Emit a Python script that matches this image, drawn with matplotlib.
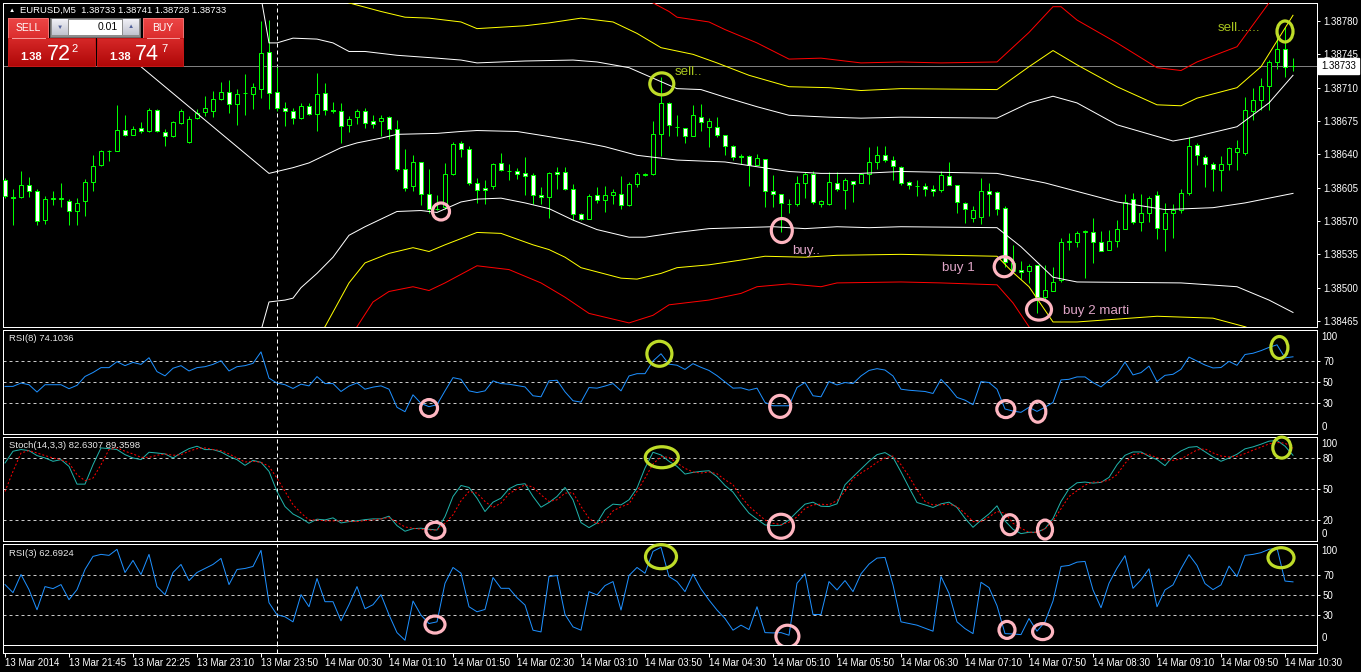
import matplotlib
matplotlib.use("Agg")
import matplotlib.pyplot as plt
import matplotlib.colors as mcolors
import matplotlib.transforms as mtransforms
from matplotlib.patches import Ellipse, Rectangle
import numpy as np

plt.rcParams["font.family"] = ["Liberation Sans", "DejaVu Sans"]

# ---------------- data (EURUSD M5) ----------------
opens = [
    1.38613, 1.38595, 1.38595, 1.38608, 1.38601, 1.38571, 1.38593, 1.38593, 1.38591, 1.38581,
    1.38591, 1.38611, 1.38629, 1.38643, 1.38644, 1.38666, 1.38660, 1.38668, 1.38665, 1.38687,
    1.38663, 1.38659, 1.38673, 1.38653, 1.38678, 1.38684, 1.38685, 1.38698, 1.38705, 1.38693,
    1.38704, 1.38703, 1.38709, 1.38747, 1.38705, 1.38689, 1.38686, 1.38678, 1.38691, 1.38682,
    1.38704, 1.38687, 1.38686, 1.38671, 1.38679, 1.38685, 1.38675, 1.38675, 1.38679, 1.38667,
    1.38625, 1.38607, 1.38632, 1.38598, 1.38583, 1.38585, 1.38619, 1.38652, 1.38646, 1.38610,
    1.38605, 1.38607, 1.38631, 1.38623, 1.38622, 1.38620, 1.38618, 1.38597, 1.38595, 1.38621,
    1.38621, 1.38604, 1.38577, 1.38572, 1.38597, 1.38592, 1.38597, 1.38598, 1.38587, 1.38609,
    1.38618, 1.38619, 1.38661, 1.38694, 1.38669, 1.38668, 1.38659, 1.38679, 1.38669, 1.38669,
    1.38660, 1.38649, 1.38638, 1.38638, 1.38629, 1.38635, 1.38601, 1.38598, 1.38588, 1.38588,
    1.38610, 1.38619, 1.38588, 1.38588, 1.38610, 1.38603, 1.38612, 1.38610, 1.38619, 1.38632,
    1.38639, 1.38634, 1.38627, 1.38611, 1.38607, 1.38607, 1.38604, 1.38603, 1.38617, 1.38608,
    1.38589, 1.38573, 1.38574, 1.38601, 1.38600, 1.38584, 1.38518, 1.38519, 1.38517, 1.38524,
    1.38490, 1.38497, 1.38508, 1.38548, 1.38548, 1.38558, 1.38558, 1.38548, 1.38540, 1.38549,
    1.38562, 1.38593, 1.38569, 1.38578, 1.38597, 1.38562, 1.38578, 1.38582, 1.38599, 1.38650,
    1.38637, 1.38630, 1.38624, 1.38630, 1.38642, 1.38641, 1.38686, 1.38697, 1.38712, 1.38737,
    1.38751, 1.38733,
]
highs = [
    1.38615, 1.38604, 1.38623, 1.38616, 1.38604, 1.38596, 1.38602, 1.38610, 1.38593, 1.38594,
    1.38614, 1.38639, 1.38645, 1.38645, 1.38692, 1.38681, 1.38670, 1.38674, 1.38689, 1.38688,
    1.38667, 1.38675, 1.38688, 1.38680, 1.38688, 1.38701, 1.38706, 1.38716, 1.38718, 1.38709,
    1.38724, 1.38715, 1.38780, 1.38781, 1.38732, 1.38695, 1.38689, 1.38694, 1.38694, 1.38725,
    1.38715, 1.38695, 1.38694, 1.38680, 1.38688, 1.38689, 1.38681, 1.38681, 1.38680, 1.38676,
    1.38646, 1.38639, 1.38632, 1.38625, 1.38597, 1.38631, 1.38653, 1.38654, 1.38649, 1.38615,
    1.38613, 1.38631, 1.38641, 1.38630, 1.38626, 1.38637, 1.38620, 1.38606, 1.38621, 1.38627,
    1.38627, 1.38609, 1.38578, 1.38598, 1.38606, 1.38607, 1.38604, 1.38617, 1.38611, 1.38621,
    1.38620, 1.38675, 1.38721, 1.38695, 1.38681, 1.38668, 1.38692, 1.38693, 1.38678, 1.38679,
    1.38660, 1.38650, 1.38640, 1.38639, 1.38640, 1.38635, 1.38618, 1.38598, 1.38593, 1.38617,
    1.38621, 1.38623, 1.38592, 1.38621, 1.38621, 1.38615, 1.38612, 1.38620, 1.38648, 1.38649,
    1.38649, 1.38638, 1.38628, 1.38612, 1.38613, 1.38610, 1.38608, 1.38622, 1.38632, 1.38608,
    1.38590, 1.38586, 1.38615, 1.38610, 1.38601, 1.38586, 1.38545, 1.38528, 1.38525, 1.38524,
    1.38524, 1.38522, 1.38552, 1.38557, 1.38559, 1.38561, 1.38573, 1.38559, 1.38561, 1.38571,
    1.38598, 1.38599, 1.38598, 1.38596, 1.38602, 1.38589, 1.38588, 1.38604, 1.38658, 1.38652,
    1.38639, 1.38632, 1.38638, 1.38648, 1.38655, 1.38700, 1.38710, 1.38720, 1.38739, 1.38767,
    1.38774, 1.38741,
]
lows = [
    1.38594, 1.38566, 1.38594, 1.38595, 1.38566, 1.38567, 1.38587, 1.38585, 1.38566, 1.38566,
    1.38575, 1.38601, 1.38628, 1.38633, 1.38643, 1.38659, 1.38660, 1.38662, 1.38663, 1.38663,
    1.38649, 1.38658, 1.38672, 1.38652, 1.38677, 1.38680, 1.38679, 1.38697, 1.38683, 1.38671,
    1.38681, 1.38688, 1.38699, 1.38688, 1.38685, 1.38670, 1.38672, 1.38677, 1.38681, 1.38664,
    1.38681, 1.38683, 1.38652, 1.38663, 1.38672, 1.38668, 1.38668, 1.38659, 1.38656, 1.38622,
    1.38602, 1.38601, 1.38587, 1.38578, 1.38582, 1.38583, 1.38618, 1.38637, 1.38608, 1.38589,
    1.38588, 1.38604, 1.38622, 1.38613, 1.38614, 1.38597, 1.38588, 1.38588, 1.38573, 1.38604,
    1.38603, 1.38571, 1.38571, 1.38572, 1.38589, 1.38579, 1.38588, 1.38583, 1.38586, 1.38606,
    1.38617, 1.38618, 1.38638, 1.38659, 1.38659, 1.38652, 1.38659, 1.38664, 1.38648, 1.38658,
    1.38639, 1.38634, 1.38630, 1.38607, 1.38629, 1.38585, 1.38585, 1.38558, 1.38578, 1.38586,
    1.38594, 1.38588, 1.38585, 1.38587, 1.38602, 1.38583, 1.38590, 1.38610, 1.38609, 1.38625,
    1.38632, 1.38613, 1.38608, 1.38604, 1.38596, 1.38596, 1.38596, 1.38600, 1.38608, 1.38578,
    1.38568, 1.38569, 1.38567, 1.38575, 1.38576, 1.38522, 1.38515, 1.38509, 1.38505, 1.38473,
    1.38487, 1.38496, 1.38506, 1.38540, 1.38543, 1.38510, 1.38526, 1.38538, 1.38540, 1.38543,
    1.38562, 1.38567, 1.38560, 1.38569, 1.38551, 1.38538, 1.38552, 1.38578, 1.38597, 1.38629,
    1.38606, 1.38602, 1.38602, 1.38624, 1.38624, 1.38639, 1.38676, 1.38687, 1.38687, 1.38730,
    1.38721, 1.38728,
]
closes = [
    1.38596, 1.38594, 1.38608, 1.38601, 1.38570, 1.38593, 1.38594, 1.38594, 1.38581, 1.38589,
    1.38611, 1.38628, 1.38643, 1.38644, 1.38666, 1.38660, 1.38667, 1.38665, 1.38687, 1.38664,
    1.38659, 1.38674, 1.38686, 1.38677, 1.38683, 1.38689, 1.38698, 1.38705, 1.38693, 1.38703,
    1.38704, 1.38711, 1.38746, 1.38704, 1.38689, 1.38686, 1.38678, 1.38691, 1.38682, 1.38703,
    1.38687, 1.38686, 1.38670, 1.38677, 1.38685, 1.38673, 1.38672, 1.38678, 1.38667, 1.38625,
    1.38605, 1.38632, 1.38598, 1.38583, 1.38583, 1.38619, 1.38651, 1.38646, 1.38610, 1.38603,
    1.38603, 1.38630, 1.38624, 1.38623, 1.38619, 1.38617, 1.38597, 1.38595, 1.38620, 1.38619,
    1.38604, 1.38577, 1.38572, 1.38596, 1.38592, 1.38597, 1.38600, 1.38587, 1.38609, 1.38619,
    1.38619, 1.38661, 1.38694, 1.38671, 1.38669, 1.38659, 1.38681, 1.38674, 1.38675, 1.38660,
    1.38649, 1.38637, 1.38637, 1.38629, 1.38636, 1.38601, 1.38598, 1.38589, 1.38588, 1.38610,
    1.38619, 1.38590, 1.38591, 1.38611, 1.38604, 1.38613, 1.38609, 1.38619, 1.38632, 1.38639,
    1.38634, 1.38628, 1.38610, 1.38608, 1.38607, 1.38604, 1.38602, 1.38618, 1.38608, 1.38590,
    1.38583, 1.38582, 1.38601, 1.38598, 1.38583, 1.38527, 1.38526, 1.38516, 1.38523, 1.38490,
    1.38498, 1.38506, 1.38548, 1.38549, 1.38557, 1.38559, 1.38548, 1.38539, 1.38549, 1.38562,
    1.38590, 1.38569, 1.38578, 1.38594, 1.38563, 1.38578, 1.38582, 1.38599, 1.38649, 1.38639,
    1.38630, 1.38625, 1.38630, 1.38647, 1.38647, 1.38687, 1.38697, 1.38712, 1.38737, 1.38751,
    1.38732, 1.38733,
]
bid = 1.38733

# band lines (bar index, price)
mid_idx = [17, 33, 34, 36, 38, 40, 42, 44, 47, 49, 54, 57, 59, 64, 67, 72, 75, 79, 84, 90,
           94, 98, 102, 107, 112, 124, 130, 139, 145, 151, 155, 161]
mid_val = [1.38732, 1.38620, 1.38622, 1.38626, 1.38631, 1.38639, 1.38647, 1.38652, 1.38657, 1.38661,
           1.38662, 1.38664, 1.38665, 1.38664, 1.38660, 1.38653, 1.38648, 1.38639, 1.38634, 1.38632,
           1.38627, 1.38622, 1.38620, 1.38620, 1.38622, 1.38620, 1.38610, 1.38590, 1.38582, 1.38584,
           1.38589, 1.38599]
up1_idx = [32, 33, 34, 36, 39, 41, 43, 45, 49, 54, 57, 59, 65, 71, 74, 78, 81, 84, 87, 90,
           94, 98, 103, 107, 112, 124, 128, 131, 134, 139, 146, 148, 154, 158, 161]
up1_val = [1.38805, 1.38757, 1.38757, 1.38762, 1.38761, 1.38757, 1.38748, 1.38748, 1.38744, 1.38741,
           1.38739, 1.38736, 1.38738, 1.38739, 1.38737, 1.38731, 1.38720, 1.38709, 1.38708, 1.38700,
           1.38690, 1.38681, 1.38679, 1.38678, 1.38679, 1.38678, 1.38694, 1.38701, 1.38694, 1.38671,
           1.38654, 1.38657, 1.38669, 1.38694, 1.38723]
dn1_idx = [32, 33, 35, 36, 37, 39, 41, 43, 45, 48, 49, 52, 54, 57, 59, 62, 65, 68, 71, 74,
           78, 80, 84, 88, 92, 96, 100, 104, 108, 112, 124, 127, 131, 134, 147, 154, 158, 161]
dn1_val = [1.38455, 1.38485, 1.38487, 1.38489, 1.38500, 1.38515, 1.38532, 1.38555, 1.38564, 1.38576,
           1.38580, 1.38581, 1.38579, 1.38590, 1.38593, 1.38594, 1.38589, 1.38583, 1.38571, 1.38561,
           1.38553, 1.38553, 1.38558, 1.38562, 1.38563, 1.38564, 1.38562, 1.38564, 1.38563, 1.38564,
           1.38563, 1.38543, 1.38511, 1.38506, 1.38505, 1.38501, 1.38487, 1.38474]
up2_idx = [34, 38, 43, 47, 50, 53, 57, 59, 65, 68, 72, 76, 79, 82, 86, 89, 93, 98, 103, 107,
           112, 124, 128, 131, 134, 139, 144, 147, 149, 154, 157, 161]
up2_val = [1.38840, 1.38815, 1.38799, 1.38790, 1.38784, 1.38783, 1.38779, 1.38772, 1.38775, 1.38778,
           1.38783, 1.38779, 1.38767, 1.38752, 1.38745, 1.38736, 1.38723, 1.38711, 1.38710, 1.38707,
           1.38709, 1.38708, 1.38732, 1.38749, 1.38734, 1.38711, 1.38692, 1.38691, 1.38699, 1.38710,
           1.38732, 1.38786]
dn2_idx = [34, 38, 40, 43, 45, 48, 51, 53, 55, 59, 62, 66, 68, 70, 72, 77, 79, 82, 84, 88,
           92, 95, 100, 104, 112, 124, 126, 128, 131, 134, 144, 151, 155, 161]
dn2_val = [1.38400, 1.38440, 1.38459, 1.38505, 1.38526, 1.38536, 1.38542, 1.38538, 1.38545, 1.38558,
           1.38557, 1.38545, 1.38540, 1.38532, 1.38521, 1.38510, 1.38509, 1.38515, 1.38521, 1.38524,
           1.38529, 1.38533, 1.38532, 1.38534, 1.38535, 1.38533, 1.38516, 1.38501, 1.38464, 1.38464,
           1.38470, 1.38468, 1.38459, 1.38440]
up3_idx = [34, 60, 76, 81, 83, 84, 88, 90, 94, 98, 102, 105, 107, 112, 117, 124, 128, 131, 132, 134,
           139, 144, 147, 149, 154, 158, 161]
up3_val = [1.38900, 1.38860, 1.38815, 1.38799, 1.38790, 1.38784, 1.38779, 1.38771, 1.38757, 1.38740,
           1.38741, 1.38738, 1.38736, 1.38737, 1.38736, 1.38737, 1.38768, 1.38795, 1.38795, 1.38781,
           1.38757, 1.38731, 1.38728, 1.38737, 1.38753, 1.38799, 1.38840]
dn3_idx = [34, 40, 44, 46, 48, 51, 53, 55, 59, 63, 67, 70, 73, 78, 81, 83, 88, 92, 94, 98,
           102, 104, 112, 117, 124, 126, 128, 131, 161]
dn3_val = [1.38360, 1.38420, 1.38459, 1.38485, 1.38496, 1.38501, 1.38497, 1.38505, 1.38523, 1.38519,
           1.38505, 1.38490, 1.38473, 1.38463, 1.38471, 1.38482, 1.38487, 1.38494, 1.38501, 1.38504,
           1.38501, 1.38505, 1.38506, 1.38505, 1.38503, 1.38484, 1.38459, 1.38420, 1.38400]

rsi8 = [
    45.7, 45.7, 48.9, 47.3, 40.3, 47.3, 47.3, 47.3, 43.5, 46.7,
    55.2, 59.0, 63.7, 63.7, 69.4, 65.6, 68.7, 66.8, 73.2, 59.9,
    55.8, 63.1, 65.6, 60.5, 63.7, 64.6, 66.8, 70.3, 60.5, 64.6,
    65.6, 67.8, 78.8, 53.6, 48.9, 47.3, 43.7, 47.8, 46.2, 55.1,
    48.4, 48.4, 40.8, 46.0, 49.0, 43.0, 45.0, 46.2, 43.0, 25.6,
    21.4, 37.6, 29.4, 26.2, 28.1, 41.4, 54.1, 52.5, 41.4, 39.8,
    41.4, 51.0, 48.4, 47.8, 46.5, 45.2, 36.7, 35.7, 51.0, 51.6,
    40.5, 31.9, 30.6, 44.6, 44.0, 46.0, 48.4, 41.4, 55.7, 57.9,
    57.9, 70.0, 77.0, 67.0, 66.0, 62.0, 67.5, 64.0, 61.0, 56.0,
    50.0, 44.0, 44.3, 42.1, 44.0, 30.3, 27.1, 27.1, 27.1, 44.6,
    49.4, 36.7, 35.7, 50.3, 47.1, 49.4, 48.4, 55.7, 61.0, 62.7,
    61.4, 55.7, 43.0, 42.0, 41.4, 40.8, 38.9, 52.5, 44.6, 35.1,
    32.5, 28.1, 50.3, 49.4, 43.0, 24.0, 22.0, 20.8, 25.6, 21.7,
    25.6, 30.3, 51.9, 52.5, 54.8, 54.8, 49.4, 45.2, 51.6, 57.3,
    69.0, 56.7, 58.9, 65.2, 50.3, 56.3, 57.3, 62.1, 73.8, 70.0,
    66.2, 63.4, 63.8, 69.7, 65.9, 76.3, 77.5, 80.0, 83.1, 85.6,
    73.1, 74.1,
]
stoch_main = [
    75.2, 86.5, 88.1, 87.1, 82.3, 80.0, 76.8, 78.4, 71.9, 54.8,
    54.8, 73.5, 89.7, 89.0, 88.1, 83.2, 80.0, 78.4, 85.5, 84.8,
    83.9, 80.0, 84.8, 89.0, 91.3, 88.1, 88.1, 85.8, 81.6, 78.4,
    72.9, 77.7, 75.8, 67.1, 47.7, 33.2, 26.0, 22.0, 17.1, 21.0,
    20.3, 22.3, 17.4, 18.7, 19.4, 20.6, 21.3, 21.3, 23.9, 14.8,
    9.4, 11.9, 12.3, 11.3, 10.6, 23.5, 42.9, 53.5, 51.6, 41.3,
    28.4, 37.4, 41.3, 50.3, 54.2, 55.2, 42.9, 32.6, 37.1, 42.9,
    51.6, 39.7, 17.7, 12.9, 17.4, 30.0, 35.5, 34.8, 39.7, 51.0,
    70.3, 85.5, 82.9, 76.8, 71.9, 64.5, 66.1, 67.1, 67.7, 61.9,
    53.5, 47.1, 36.5, 26.8, 21.0, 15.5, 14.8, 15.2, 20.3, 28.1,
    35.5, 37.4, 33.5, 33.2, 35.8, 54.2, 61.9, 69.4, 76.8, 83.2,
    85.2, 80.6, 66.5, 51.6, 37.1, 34.8, 32.3, 35.8, 37.4, 32.3,
    21.9, 13.2, 20.0, 26.1, 33.9, 19.4, 11.3, 7.1, 8.4, 8.4,
    11.9, 21.6, 38.1, 50.3, 56.1, 56.8, 55.8, 56.5, 61.3, 73.5,
    82.6, 85.8, 85.8, 81.6, 78.4, 72.6, 81.6, 86.8, 90.3, 91.0,
    86.0, 81.0, 76.8, 80.0, 83.6, 88.8, 90.7, 93.3, 96.2, 96.9,
    91.4, 82.6,
]
stoch_signal = [
    47.7, 67.1, 84.8, 87.1, 84.8, 82.3, 80.0, 78.4, 75.2, 63.9,
    58.1, 60.6, 73.5, 88.1, 89.7, 86.5, 83.9, 80.6, 80.6, 82.6,
    83.9, 82.6, 83.2, 86.5, 89.0, 89.7, 88.1, 87.1, 83.9, 80.0,
    76.1, 76.8, 75.8, 71.9, 60.6, 47.7, 35.0, 27.0, 20.3, 20.3,
    19.4, 19.4, 19.4, 19.0, 18.7, 19.7, 20.3, 21.3, 22.6, 18.1,
    13.5, 12.3, 11.3, 10.6, 10.6, 17.1, 25.2, 38.7, 47.7, 46.1,
    38.1, 32.3, 36.5, 45.5, 50.0, 54.2, 51.9, 44.5, 38.1, 39.7,
    46.1, 46.5, 33.2, 21.9, 16.5, 19.4, 29.0, 32.9, 35.8, 47.7,
    60.6, 74.2, 81.3, 80.6, 75.2, 70.0, 66.5, 65.5, 66.5, 64.8,
    59.0, 54.2, 42.9, 33.5, 26.8, 20.3, 17.1, 15.8, 18.1, 23.2,
    31.3, 34.8, 35.5, 34.8, 39.0, 47.7, 60.0, 65.5, 70.3, 75.8,
    80.0, 81.9, 73.5, 62.3, 49.4, 38.1, 34.8, 34.8, 35.5, 33.2,
    26.5, 18.7, 18.7, 23.2, 28.4, 26.8, 17.1, 12.3, 8.4, 8.4,
    11.6, 19.4, 31.0, 42.9, 48.4, 53.9, 56.8, 56.8, 58.7, 63.9,
    74.8, 83.2, 84.5, 83.2, 80.3, 78.1, 77.7, 79.0, 83.5, 87.7,
    88.8, 84.9, 81.9, 81.0, 81.6, 84.2, 87.5, 90.4, 93.6, 94.9,
    94.3, 89.4,
]
rsi3 = [
    60, 52, 70, 55, 35, 58, 56, 60, 45, 55,
    75, 88, 90, 89, 95, 72, 84, 70, 90, 58,
    50, 72, 80, 64, 72, 76, 80, 86, 60, 75,
    76, 78, 94, 42, 30, 28, 23, 50, 38, 66,
    43, 43, 24, 40, 58, 36, 40, 50, 30, 12.3,
    4.7, 43.7, 29.7, 21.3, 23, 61.3, 77, 71.3, 38, 33,
    35.3, 67, 56.3, 56.3, 47, 39.7, 14.7, 13, 68, 69,
    30.3, 18, 14.7, 53, 49.7, 59, 63, 34.7, 69, 77,
    71.3, 93, 97, 68, 63, 53, 70.3, 55.7, 44.7, 34.7,
    26.3, 14.7, 19.7, 15.3, 38, 12.3, 12, 12.3, 9.7, 61.3,
    70.7, 30.3, 30.3, 63, 54.7, 64, 53, 70.7, 80.3, 86.3,
    87, 59.7, 23, 21.3, 19.7, 16.7, 13.7, 68, 51.3, 23,
    16.3, 11.3, 62.3, 57, 39, 11.3, 11, 10.3, 26.3, 13.7,
    23, 43.7, 78, 79, 82.3, 83, 54.7, 37, 61.3, 76.3,
    88.7, 56.3, 64.7, 75.7, 38, 54.7, 59.7, 75.7, 89.7, 79,
    61, 55, 59.7, 78.3, 68, 89, 90, 91.7, 95, 96.3,
    63.5, 62.7,
]

tick_idx = [0, 8, 16, 24, 32, 40, 48, 56, 64, 72, 80, 88, 96, 104, 112, 120, 128, 136, 144, 152, 160]
tick_lab = ["13 Mar 2014", "13 Mar 21:45", "13 Mar 22:25", "13 Mar 23:10", "13 Mar 23:50",
            "14 Mar 00:30", "14 Mar 01:10", "14 Mar 01:50", "14 Mar 02:30", "14 Mar 03:10",
            "14 Mar 03:50", "14 Mar 04:30", "14 Mar 05:10", "14 Mar 05:50", "14 Mar 06:30",
            "14 Mar 07:10", "14 Mar 07:50", "14 Mar 08:30", "14 Mar 09:10", "14 Mar 09:50",
            "14 Mar 10:30"]
price_ticks = [1.38465, 1.38500, 1.38535, 1.38570, 1.38605, 1.38640, 1.38675, 1.38710, 1.38745, 1.38780]
day_sep = 34

# hand-drawn marks: (bar, value, kind)
main_rx = [54.5, 82.1, 97.1, 124.9, 129.25, 160.0]
main_ry = [1.38580, 1.38714, 1.38560, 1.38522, 1.38477, 1.38769]
rsi8_rx = [81.8, 53.0, 96.9, 125.1, 129.1, 159.3]
rsi8_ry = [77.0, 24.9, 26.5, 23.9, 21.4, 83.0]
sto_rx = [82.1, 53.8, 97.0, 125.6, 130.0, 159.6]
sto_ry = [80.7, 10.3, 14.2, 15.7, 11.0, 90.0]
rsi3_rx = [82.0, 53.75, 97.8, 125.25, 129.7, 159.5]
rsi3_ry = [87.7, 20.3, 8.7, 15.0, 13.3, 86.7]
ring_kind = ["sell", "buy", "buy", "buy", "buy", "sell"]
main_kind = ["buy", "sell", "buy", "buy", "buy", "sell"]

note_x = [83.75, 98.4, 117.1, 132.2, 151.6]
note_y = [1.38726, 1.38538, 1.38521, 1.38475, 1.38773]
note_txt = ["sell..", "buy..", "buy 1", "buy 2 marti", "sell......"]
note_kind = ["sell", "buy", "buy", "buy", "sell"]

# ---------------- style ----------------
W, H, DPI = 1361, 672, 100
PX = 72.0 / DPI
BG, FG = "black", "white"
LIME = "#00FF00"
RING = {"buy": "#FFB6C1", "sell": "#BEDC28"}
NOTE = {"buy": "#E0A6C8", "sell": "#A8C41E"}
main_size = [(17, 17), (24, 22), (21, 24), (20, 20), (25, 21), (16, 21)]
rsi8_size = [(25, 25), (17, 17), (21, 22), (18, 17), (16, 21), (17, 22)]
sto_size = [(33, 21), (19, 16), (25, 24), (17, 20), (15, 19), (18, 21)]
rsi3_size = [(31, 24), (20, 17), (23, 22), (16, 17), (20, 16), (26, 20)]

fig = plt.figure(figsize=(W / DPI, H / DPI), dpi=DPI, facecolor=BG)
X0, X1 = 3, 1317


def panel(top, bottom):
    ax = fig.add_axes([X0 / W, 1 - bottom / H, (X1 - X0) / W, (bottom - top) / H])
    ax.set_facecolor(BG)
    for s in ax.spines.values():
        s.set_color(FG)
        s.set_linewidth(PX)
    ax.set_xlim(-0.25, 164)
    ax.tick_params(axis="x", bottom=False, labelbottom=False)
    ax.yaxis.tick_right()
    ax.tick_params(axis="y", colors=FG, length=3 * PX, width=PX, pad=3 * PX, labelsize=7)
    ax.axvline(day_sep, color=FG, lw=PX, ls=(0, (4, 3)), zorder=1)
    return ax


def ring(ax, xd, yd, size, color):
    tr = fig.dpi_scale_trans + mtransforms.ScaledTranslation(xd, yd, ax.transData)
    ax.add_patch(Ellipse((0, 0), size[0] / DPI, size[1] / DPI, transform=tr, fill=False,
                         ec=color, lw=2.3, zorder=8, clip_on=False))


ax_main = panel(3, 327.3)
ax_rsi8 = panel(329.7, 434)
ax_sto = panel(436.7, 541)
ax_rsi3 = panel(544, 645)
ax_time = panel(645, 652.7)

# main chart
x = np.arange(len(closes))
o, h, l, c = (np.array(v) for v in (opens, highs, lows, closes))
bull = c >= o
lo_b, hi_b = np.minimum(o, c), np.maximum(o, c)
ax_main.axhline(bid, color="#7F7F7F", lw=PX, zorder=1)
ax_main.vlines(x, l, lo_b, color=LIME, lw=PX, zorder=2)
ax_main.vlines(x, hi_b, h, color=LIME, lw=PX, zorder=2)
ax_main.bar(x, np.maximum(hi_b - lo_b, 1e-7), bottom=lo_b, width=0.6,
            color=np.where(bull, BG, FG), edgecolor=LIME, linewidth=PX, zorder=3)
for bi, bv, col in [(mid_idx, mid_val, "white"), (up1_idx, up1_val, "white"), (dn1_idx, dn1_val, "white"),
                    (up2_idx, up2_val, "#FFFF00"), (dn2_idx, dn2_val, "#FFFF00"),
                    (up3_idx, up3_val, "#FF0000"), (dn3_idx, dn3_val, "#FF0000")]:
    ax_main.plot(bi, bv, color=col, lw=PX, zorder=4)
ax_main.set_ylim(1.384584, 1.387989)
ax_main.set_yticks(price_ticks)
ax_main.set_yticklabels([f"{p:.5f}" for p in price_ticks])
ax_main.annotate(f"{bid:.5f}", xy=(1, bid), xycoords=ax_main.get_yaxis_transform(),
                 xytext=(4 * PX, 0), textcoords="offset points", ha="left", va="center",
                 fontsize=7, color="black", annotation_clip=False, zorder=10,
                 bbox=dict(boxstyle="square,pad=0.3", fc="white", ec="white"))
for rx, ry, k, sz in zip(main_rx, main_ry, main_kind, main_size):
    ring(ax_main, rx, ry, sz, RING[k])
for nx, ny, t, k in zip(note_x, note_y, note_txt, note_kind):
    ax_main.text(nx, ny, t, color=NOTE[k], fontsize=9.6, ha="left", va="center", zorder=9)

# indicator panels
LEVEL = dict(color="#C8C8C8", lw=PX, ls=(0, (3, 3)), zorder=1)
for ax, levels, top in [(ax_rsi8, [30, 50, 70], 100.1), (ax_sto, [20, 50, 80], 100.5),
                        (ax_rsi3, [30, 50, 70], 100.3)]:
    for lv in levels:
        ax.axhline(lv, **LEVEL)
    ax.set_ylim(0, top)
    ax.set_yticks(levels)
    ax.set_yticklabels([str(v) for v in levels])
    ax.annotate("100", xy=(1, 1), xycoords="axes fraction", xytext=(4.5 * PX, -2 * PX),
                textcoords="offset points", ha="left", va="top", fontsize=7, color=FG)
    ax.annotate("0", xy=(1, 0), xycoords="axes fraction", xytext=(4.5 * PX, 2 * PX),
                textcoords="offset points", ha="left", va="bottom", fontsize=7, color=FG)

ax_rsi8.plot(x, rsi8, color="#1E90FF", lw=PX, zorder=3)
ax_sto.plot(x, stoch_main, color="#20B2AA", lw=PX, zorder=3)
ax_sto.plot(x, stoch_signal, color="#FF0000", lw=PX, ls=(0, (2, 2)), zorder=4)
ax_rsi3.plot(x, rsi3, color="#1E90FF", lw=PX, zorder=3)

for ax, rxs, rys, sizes in [(ax_rsi8, rsi8_rx, rsi8_ry, rsi8_size), (ax_sto, sto_rx, sto_ry, sto_size),
                            (ax_rsi3, rsi3_rx, rsi3_ry, rsi3_size)]:
    for rx, ry, k, sz in zip(rxs, rys, ring_kind, sizes):
        ring(ax, rx, ry, sz, RING[k])

# time axis strip
ax_time.set_ylim(0, 1)
ax_time.set_yticks([])
ax_time.tick_params(axis="y", right=False)
ax_time.set_xticks(tick_idx)
ax_time.set_xticklabels(tick_lab, ha="left")
ax_time.tick_params(axis="x", bottom=True, labelbottom=True, direction="out", length=4 * PX,
                    width=PX, pad=1, colors=FG, labelsize=7)

# ---------------- terminal overlay (title, one-click panel, labels) ----------------
ui = fig.add_axes([0, 0, 1, 1], zorder=20)
ui.axis("off")


def ui_box(x0, y0, x1, y1, top, bot, edge=None):
    c0 = np.array(mcolors.to_rgb(top))
    c1 = np.array(mcolors.to_rgb(bot))
    t = np.linspace(0.0, 1.0, 24)[:, None, None]
    ui.imshow(c0 * (1 - t) + c1 * t, extent=(x0, x1, y1, y0), aspect="auto",
              interpolation="bilinear", zorder=21)
    if edge:
        ui.add_patch(Rectangle((x0, y0), x1 - x0, y1 - y0, fill=False, ec=edge, lw=PX, zorder=22))


ui_box(8, 18, 48, 38, "#EC4646", "#DC2E2E", "#F07070")
ui_box(8, 38, 95, 66, "#D62828", "#B00808", "#C21818")
ui_box(143, 18, 183, 38, "#EC4646", "#DC2E2E", "#F07070")
ui_box(97, 38, 183, 66, "#D62828", "#B00808", "#C21818")
ui.plot([12, 45], [38, 38], color="#F49A9A", lw=PX, zorder=23)
ui.plot([147, 179], [38, 38], color="#F49A9A", lw=PX, zorder=23)
ui.add_patch(Rectangle((50, 18), 90, 18.5, fc="#8E8E8E", ec="#6A6A6A", lw=PX, zorder=21))
ui_box(52, 19.5, 68, 35, "#F0F0F6", "#C2C4D0")
ui_box(123, 19.5, 139, 35, "#F0F0F6", "#C2C4D0")
ui.add_patch(Rectangle((69, 19.5), 53, 15.5, fc="white", ec="none", zorder=22))
ui.text(60, 27.5, "\u25bc", fontsize=4.5, color="#50609A", ha="center", va="center", zorder=24)
ui.text(131, 27, "\u25b2", fontsize=4.5, color="#50609A", ha="center", va="center", zorder=24)
ui.text(118, 27.5, "0.01", fontsize=7.5, color="black", ha="right", va="center", zorder=24)
ui.text(28, 28, "SELL", fontsize=7.5, color=FG, ha="center", va="center", zorder=24)
ui.text(163, 28, "BUY", fontsize=7.5, color=FG, ha="center", va="center", zorder=24)
for x_small, x_big, x_sup, big, sup in [(20.5, 46.5, 71.5, "72", "2"), (109, 135, 161.5, "74", "7")]:
    ui.text(x_small, 60, "1.38", fontsize=8, fontweight="bold", color=FG, ha="left", va="baseline", zorder=24)
    ui.text(x_big, 60.5, big, fontsize=15.5, color=FG, ha="left", va="baseline", zorder=24)
    ui.text(x_sup, 43.5, sup, fontsize=8, color=FG, ha="left", va="top", zorder=24)

ui.text(11.5, 10.5, "\u25b2", fontsize=4.5, color=FG, ha="center", va="center", zorder=24)
ui.text(20.5, 10.5, "EURUSD,M5  1.38733 1.38741 1.38728 1.38733", fontsize=6.8, color=FG,
        ha="left", va="center", zorder=24)
ui.text(9.3, 338.5, "RSI(8) 74.1036", fontsize=6.8, color="#E8E8E8", ha="left", va="center", zorder=24)
ui.text(9.3, 445, "Stoch(14,3,3) 82.6307 89.3598", fontsize=6.8, color="#E8E8E8", ha="left",
        va="center", zorder=24)
ui.text(9.3, 553, "RSI(3) 62.6924", fontsize=6.8, color="#E8E8E8", ha="left", va="center", zorder=24)
ui.set_xlim(0, W)
ui.set_ylim(H, 0)

fig.savefig("out.png", dpi=DPI, facecolor=BG)
